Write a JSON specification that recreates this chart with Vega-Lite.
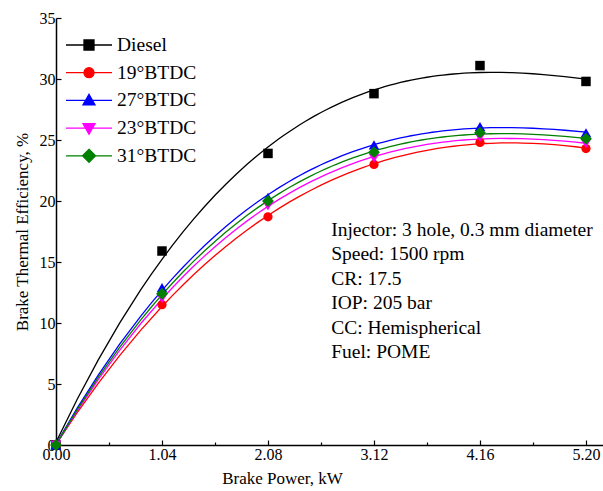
{
  "$schema": "https://vega.github.io/schema/vega-lite/v6.json",
  "width": 547,
  "height": 427,
  "autosize": {"type": "none"},
  "padding": {"left": 56, "top": 18, "right": 0, "bottom": 46},
  "background": "white",
  "config": {"view": {"stroke": null}, "font": "Liberation Serif",
    "legend": {"orient": "none", "legendX": 22, "legendY": 16, "title": null, "padding": 0,
      "symbolSize": 400, "symbolStrokeWidth": 1.3, "rowPadding": 6.7, "labelOffset": 17,
      "labelFont": "Liberation Serif", "labelFontSize": 19.5, "labelColor": "black", "labelBaseline": "middle", "labelLimit": 0}},
  "data": {"values": [
    {"series": "Diesel", "bp": 0, "eff": 0},
    {"series": "Diesel", "bp": 1.04, "eff": 15.9},
    {"series": "Diesel", "bp": 2.08, "eff": 23.9},
    {"series": "Diesel", "bp": 3.12, "eff": 28.8},
    {"series": "Diesel", "bp": 4.16, "eff": 31.1},
    {"series": "Diesel", "bp": 5.2, "eff": 29.8},
    {"series": "19°BTDC", "bp": 0, "eff": 0},
    {"series": "19°BTDC", "bp": 1.04, "eff": 11.5},
    {"series": "19°BTDC", "bp": 2.08, "eff": 18.7},
    {"series": "19°BTDC", "bp": 3.12, "eff": 23.0},
    {"series": "19°BTDC", "bp": 4.16, "eff": 24.8},
    {"series": "19°BTDC", "bp": 5.2, "eff": 24.3},
    {"series": "27°BTDC", "bp": 0, "eff": 0},
    {"series": "27°BTDC", "bp": 1.04, "eff": 12.9},
    {"series": "27°BTDC", "bp": 2.08, "eff": 20.3},
    {"series": "27°BTDC", "bp": 3.12, "eff": 24.6},
    {"series": "27°BTDC", "bp": 4.16, "eff": 26.1},
    {"series": "27°BTDC", "bp": 5.2, "eff": 25.6},
    {"series": "23°BTDC", "bp": 0, "eff": 0},
    {"series": "23°BTDC", "bp": 1.04, "eff": 12.0},
    {"series": "23°BTDC", "bp": 2.08, "eff": 19.6},
    {"series": "23°BTDC", "bp": 3.12, "eff": 23.5},
    {"series": "23°BTDC", "bp": 4.16, "eff": 25.2},
    {"series": "23°BTDC", "bp": 5.2, "eff": 24.7},
    {"series": "31°BTDC", "bp": 0, "eff": 0},
    {"series": "31°BTDC", "bp": 1.04, "eff": 12.4},
    {"series": "31°BTDC", "bp": 2.08, "eff": 20.0},
    {"series": "31°BTDC", "bp": 3.12, "eff": 24.0},
    {"series": "31°BTDC", "bp": 4.16, "eff": 25.6},
    {"series": "31°BTDC", "bp": 5.2, "eff": 25.1}
  ]},
  "layer": [
    {
      "transform": [{"regression": "eff", "on": "bp", "groupby": ["series"], "method": "poly", "order": 3, "extent": [0, 5.2]}],
      "mark": {"type": "line", "strokeWidth": 1.3},
      "encoding": {
        "x": {"field": "bp", "type": "quantitative",
          "scale": {"domain": [0, 5.367], "nice": false, "zero": false},
          "axis": {
            "values": [0, 0.52, 1.04, 1.56, 2.08, 2.6, 3.12, 3.64, 4.16, 4.68, 5.2],
            "labelExpr": "round(datum.value/0.52)%2 ? '' : format(datum.value,'.2f')",
            "tickSize": {"condition": {"test": "round(datum.value/0.52)%2", "value": -3}, "value": -5},
            "labelPadding": 6, "labelOverlap": false, "labelFlush": false, "labelBound": false,
            "title": "Brake Power, kW", "titleX": 226, "titlePadding": 6,
            "grid": false, "domainColor": "black", "domainWidth": 1.5,
            "tickColor": "black", "tickWidth": 1.2,
            "labelFont": "Liberation Serif", "labelFontSize": 16, "labelColor": "black",
            "titleFont": "Liberation Serif", "titleFontSize": 17, "titleFontWeight": "normal", "titleColor": "black"
          }
        },
        "y": {"field": "eff", "type": "quantitative",
          "scale": {"domain": [0, 35], "nice": false},
          "axis": {
            "values": [0, 2.5, 5, 7.5, 10, 12.5, 15, 17.5, 20, 22.5, 25, 27.5, 30, 32.5, 35],
            "labelExpr": "datum.value % 5 ? '' : datum.label",
            "tickSize": {"condition": {"test": "datum.value % 5", "value": -3}, "value": -5},
            "labelPadding": 6, "labelOverlap": false, "labelFlush": false, "labelBound": false,
            "title": "Brake Thermal Efficiency, %", "titlePadding": 8,
            "grid": false, "domainColor": "black", "domainWidth": 1.5,
            "tickColor": "black", "tickWidth": 1.2,
            "labelFont": "Liberation Serif", "labelFontSize": 16, "labelColor": "black",
            "titleFont": "Liberation Serif", "titleFontSize": 17, "titleFontWeight": "normal", "titleColor": "black"
          }
        },
        "stroke": {"field": "series", "type": "nominal",
          "scale": {"domain": ["Diesel", "19°BTDC", "27°BTDC", "23°BTDC", "31°BTDC"], "range": ["#000000", "#ff0000", "#0000ff", "#ff00ff", "#008000"]}
        }
      }
    },
    {
      "transform": [{"filter": {"field": "series", "equal": "Diesel"}}],
      "mark": {"type": "point", "shape": "square", "size": 90, "filled": true, "opacity": 1},
      "encoding": {
        "x": {"field": "bp", "type": "quantitative"},
        "y": {"field": "eff", "type": "quantitative"},
        "fill": {"field": "series", "type": "nominal",
          "scale": {"domain": ["Diesel", "19°BTDC", "27°BTDC", "23°BTDC", "31°BTDC"], "range": ["#000000", "#ff0000", "#0000ff", "#ff00ff", "#008000"]}}
      }
    },
    {
      "transform": [{"filter": {"field": "series", "equal": "19°BTDC"}}],
      "mark": {"type": "point", "shape": "circle", "size": 85, "filled": true, "opacity": 1},
      "encoding": {
        "x": {"field": "bp", "type": "quantitative"},
        "y": {"field": "eff", "type": "quantitative"},
        "fill": {"field": "series", "type": "nominal"}
      }
    },
    {
      "transform": [{"filter": {"field": "series", "equal": "27°BTDC"}}],
      "mark": {"type": "point", "shape": "triangle-up", "size": 110, "filled": true, "opacity": 1},
      "encoding": {
        "x": {"field": "bp", "type": "quantitative"},
        "y": {"field": "eff", "type": "quantitative"},
        "fill": {"field": "series", "type": "nominal"}
      }
    },
    {
      "transform": [{"filter": {"field": "series", "equal": "23°BTDC"}}],
      "mark": {"type": "point", "shape": "triangle-down", "size": 110, "filled": true, "opacity": 1},
      "encoding": {
        "x": {"field": "bp", "type": "quantitative"},
        "y": {"field": "eff", "type": "quantitative"},
        "fill": {"field": "series", "type": "nominal"}
      }
    },
    {
      "transform": [{"filter": {"field": "series", "equal": "31°BTDC"}}],
      "mark": {"type": "point", "shape": "diamond", "size": 140, "filled": true, "opacity": 1},
      "encoding": {
        "x": {"field": "bp", "type": "quantitative"},
        "y": {"field": "eff", "type": "quantitative"},
        "fill": {"field": "series", "type": "nominal"}
      }
    },
    {
      "data": {"values": []},
      "mark": {"type": "point", "filled": true, "opacity": 1},
      "encoding": {
        "x": {"field": "bp", "type": "quantitative"},
        "y": {"field": "eff", "type": "quantitative"},
        "fill": {"field": "series", "type": "nominal"},
        "stroke": {"field": "series", "type": "nominal"},
        "shape": {"field": "series", "type": "nominal",
          "scale": {"domain": ["Diesel", "19°BTDC", "27°BTDC", "23°BTDC", "31°BTDC"],
            "range": [
              "M-2.3,0H2.3M-0.5,-0.5H0.5V0.5H-0.5Z",
              "M-2.3,0H2.3M0.5,0A0.5,0.5,0,1,1,-0.5,0A0.5,0.5,0,1,1,0.5,0Z",
              "M-2.3,0H2.3M0,-0.6L0.6,0.45H-0.6Z",
              "M-2.3,0H2.3M0,0.6L0.6,-0.45H-0.6Z",
              "M-2.3,0H2.3M0,-0.65L0.65,0L0,0.65L-0.65,0Z"
            ]}}
      }
    },
    {
      "data": {"values": [{}]},
      "mark": {"type": "text", "align": "left", "baseline": "top", "font": "Liberation Serif", "fontSize": 19.5, "lineHeight": 24.5, "color": "black",
        "text": ["Injector: 3 hole, 0.3 mm diameter", "Speed: 1500 rpm", "CR: 17.5", "IOP: 205 bar", "CC: Hemispherical", "Fuel: POME"]},
      "encoding": {"x": {"datum": 2.7}, "y": {"datum": 18.4}}
    }
  ]
}
